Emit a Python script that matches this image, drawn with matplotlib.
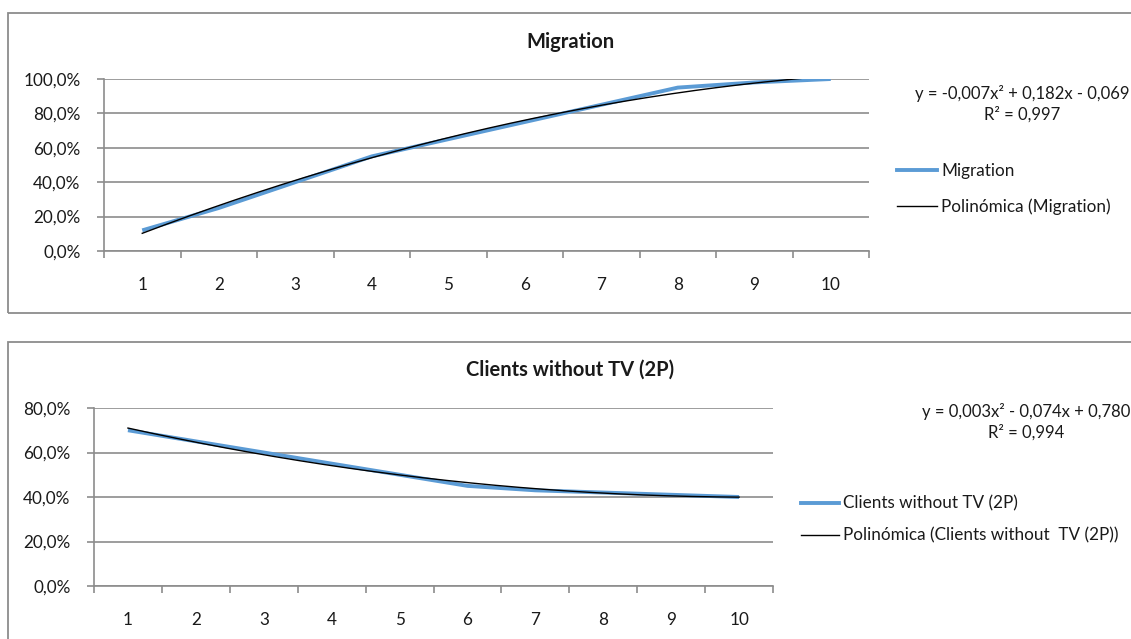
import numpy as np
import matplotlib
matplotlib.use("Agg")
import matplotlib.pyplot as plt
from matplotlib.patches import Rectangle
from matplotlib.ticker import FixedLocator, FuncFormatter
from matplotlib.lines import Line2D

plt.rcParams['font.family'] = ['Lato', 'DejaVu Sans']

# ---- data ----
periods = [1, 2, 3, 4, 5, 6, 7, 8, 9, 10]
migration = [0.12, 0.25, 0.40, 0.55, 0.65, 0.75, 0.85, 0.95, 0.98, 1.00]
clients_2p = [0.70, 0.65, 0.60, 0.55, 0.50, 0.45, 0.43, 0.42, 0.41, 0.40]

title_top = "Migration"
title_bottom = "Clients without TV (2P)"
label_top = "Migration"
label_bottom = "Clients without TV (2P)"
trend_top = "Polinómica (Migration)"
trend_bottom = "Polinómica (Clients without  TV (2P))"
eq_top = "y = -0,007x² + 0,182x - 0,069\nR² = 0,997"
eq_bottom = "y = 0,003x² - 0,074x + 0,780\nR² = 0,994"
yticks_top = [0.0, 0.2, 0.4, 0.6, 0.8, 1.0]
yticks_bottom = [0.0, 0.2, 0.4, 0.6, 0.8]

W, H = 1131, 639
fig = plt.figure(figsize=(W / 100, H / 100), dpi=100)

BLUE = '#5B9BD5'
GRID = '#8c8c8c'
TXT = '#1a1a1a'
FS = 12.3
FS_EQ = 12.0
FS_TITLE = 14.5


def fx(px):
    return px / W


def fy(py):
    return 1 - py / H


def pct(v, pos=None):
    return ("%.1f%%" % (v * 100)).replace('.', ',')


# chart area borders
for top, bottom in [(13, 313), (342, 700)]:
    fig.add_artist(Rectangle((fx(8), fy(bottom)), fx(1200), fy(top) - fy(bottom),
                             transform=fig.transFigure, fill=False,
                             edgecolor='#8c8c8c', linewidth=1.3, clip_on=False))


def make_axes(left, right, top, bottom, values, yticks, ymax, label, trend_label,
              title, title_y, eq, eq_x, eq_y, leg_x, leg_y1, leg_y2, hl, lsp):
    ax = fig.add_axes([fx(left), fy(bottom), fx(right) - fx(left), fy(top) - fy(bottom)])
    ax.set_xlim(0.5, 10.5)
    ax.set_ylim(0, ymax)
    for s in ['top', 'right']:
        ax.spines[s].set_visible(False)
    for s in ['left', 'bottom']:
        ax.spines[s].set_color(GRID)
        ax.spines[s].set_linewidth(1.2)
    ax.set_yticks(yticks)
    ax.yaxis.set_major_formatter(FuncFormatter(pct))
    ax.grid(axis='y', color=GRID, linewidth=1.2)
    ax.set_axisbelow(True)
    ax.tick_params(axis='y', length=5, width=1.2, color=GRID, pad=12,
                   labelsize=FS, labelcolor=TXT)
    ax.xaxis.set_major_locator(FixedLocator(np.arange(0.5, 11, 1.0)))
    ax.xaxis.set_minor_locator(FixedLocator(periods))
    ax.xaxis.set_major_formatter(FuncFormatter(lambda v, p: ''))
    ax.xaxis.set_minor_formatter(FuncFormatter(lambda v, p: str(int(round(v)))))
    ax.tick_params(axis='x', which='major', length=5, width=1.2, color=GRID)
    ax.tick_params(axis='x', which='minor', length=0, pad=18.5, labelsize=FS,
                   labelcolor=TXT)

    ax.plot(periods, values, color=BLUE, linewidth=2.8, solid_capstyle='butt',
            zorder=3, label=label)
    coef = np.polyfit(periods, values, 2)
    xs = np.linspace(1, 10, 300)
    ax.plot(xs, np.polyval(coef, xs), color='black', linewidth=1.0, zorder=4,
            label=trend_label)

    fig.text(fx(570), fy(title_y), title, ha='center', va='center',
             fontsize=FS_TITLE, fontweight='bold', color=TXT)
    fig.text(fx(eq_x), fy(eq_y), eq, ha='center', va='center', fontsize=FS_EQ,
             color=TXT, multialignment='center', linespacing=1.3)

    handles = [Line2D([], [], color=BLUE, linewidth=2.8),
               Line2D([], [], color='black', linewidth=1.0)]
    leg = fig.legend(handles, [label, trend_label], loc='center left',
                     bbox_to_anchor=(fx(leg_x), fy((leg_y1 + leg_y2) / 2)),
                     frameon=False, fontsize=FS, handlelength=hl,
                     handletextpad=0.24, labelspacing=lsp, borderpad=0,
                     borderaxespad=0)
    for t in leg.get_texts():
        t.set_color(TXT)
    return ax


make_axes(104, 869, 79, 251, migration, yticks_top, 1.0, label_top, trend_top,
          title_top, 42, eq_top, 1022, 103.5, 897, 171, 207, 2.35, 1.1)
make_axes(94, 773, 408, 586, clients_2p, yticks_bottom, 0.8, label_bottom, trend_bottom,
          title_bottom, 370, eq_bottom, 1026, 422, 801, 503, 536, 2.24, 0.92)

fig.savefig('out.png', dpi=100)
